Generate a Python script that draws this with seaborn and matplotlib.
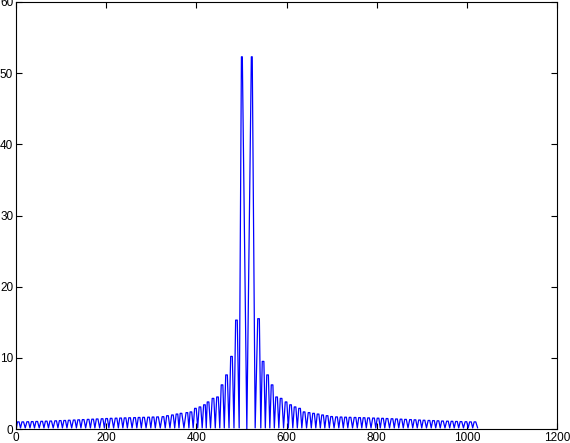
import numpy as np
import pandas as pd
import matplotlib
matplotlib.use("Agg")
import matplotlib.pyplot as plt
import seaborn as sns

#------1. Values------

# arch tops left of the centre (bin index, height)
left_pos = [5, 15, 26, 36, 46, 57, 67, 77, 88, 98, 108, 118, 129, 139, 149, 160,
            170, 180, 191, 201, 211, 222, 232, 242, 252, 263, 273, 283, 294, 304,
            314, 326, 336, 347, 357, 366, 379, 388, 398, 408, 418, 426, 437, 447,
            457, 467, 478, 489, 501]
left_peak = [1.0, 1.0, 1.02, 1.04, 1.06, 1.08, 1.1, 1.12, 1.15, 1.18, 1.2, 1.23,
             1.26, 1.29, 1.32, 1.35, 1.38, 1.41, 1.44, 1.47, 1.5, 1.52, 1.54, 1.56,
             1.58, 1.6, 1.62, 1.64, 1.66, 1.68, 1.7, 1.73, 1.87, 1.97, 2.1, 2.2,
             2.3, 2.4, 2.9, 3.1, 3.4, 3.8, 4.3, 4.5, 6.2, 7.6, 10.2, 15.3, 52.3]

# arch tops right of the centre
right_pos = [523, 538, 548, 558, 568, 578, 588, 599, 609, 619, 629, 639, 650, 660,
             670, 680, 690, 700, 711, 721, 731, 741, 752, 762, 772, 782, 793, 803,
             813, 823, 834, 844, 854, 864, 875, 885, 895, 905, 916, 926, 936, 946,
             957, 967, 977, 987, 998, 1008, 1018]
right_peak = [52.3, 15.5, 9.5, 7.6, 6.2, 4.5, 4.3, 3.8, 3.4, 3.1, 2.9, 2.4, 2.3,
              2.2, 2.1, 1.97, 1.87, 1.75, 1.7, 1.68, 1.66, 1.64, 1.62, 1.6, 1.58,
              1.56, 1.54, 1.52, 1.5, 1.47, 1.44, 1.41, 1.38, 1.35, 1.32, 1.29, 1.26,
              1.23, 1.2, 1.18, 1.15, 1.12, 1.1, 1.08, 1.06, 1.04, 1.02, 1.0, 1.0]

trough = 0.15      # floor between the arches
centre_bin = 512   # the dip in the middle goes to 0
n_bins = 1024
top_half = 1.8     # half width of the flat arch tops, in bins

x_ticks = [0, 200, 400, 600, 800, 1000, 1200]
y_ticks = [0, 10, 20, 30, 40, 50, 60]

#------2. Build the trace (peak, trough, peak, ...)------
peaks_x = left_pos + right_pos
peaks_y = left_peak + right_peak
xs, ys = [1], [trough]
for i in range(len(peaks_x)):
    w = 1.0 if peaks_y[i] > 50 else top_half
    xs += [peaks_x[i] - w, peaks_x[i] + w]
    ys += [peaks_y[i], peaks_y[i]]
    if i + 1 < len(peaks_x):
        if peaks_x[i] == 501:
            xs.append(centre_bin)
            ys.append(0.0)
        else:
            xs.append((peaks_x[i] + peaks_x[i + 1]) / 2)
            ys.append(trough)
xs.append(n_bins)
ys.append(trough)
df = pd.DataFrame({"bin": xs, "mag": ys})

#------3. Plot------
sns.set_style("ticks")
plt.rcParams["font.family"] = ["Liberation Sans", "DejaVu Sans"]

fig = plt.figure(figsize=(5.70, 4.43), dpi=100)
ax = fig.add_axes([16 / 570, 14 / 443, 541 / 570, 427 / 443])
sns.lineplot(data=df, x="bin", y="mag", color="#0000ff", linewidth=0.9, ax=ax,
             sort=False, estimator=None)

ax.set_xlim(0, 1200)
ax.set_ylim(0, 60)
ax.set_xticks(x_ticks)
ax.set_yticks(y_ticks)
ax.set_xlabel("")
ax.set_ylabel("")
ax.tick_params(direction="in", length=4, width=0.8, labelsize=8.5,
               top=True, right=True, colors="black", pad=2)
for s in ax.spines.values():
    s.set_visible(True)
    s.set_linewidth(0.8)
    s.set_color("black")

fig.savefig("out.png", dpi=100)
